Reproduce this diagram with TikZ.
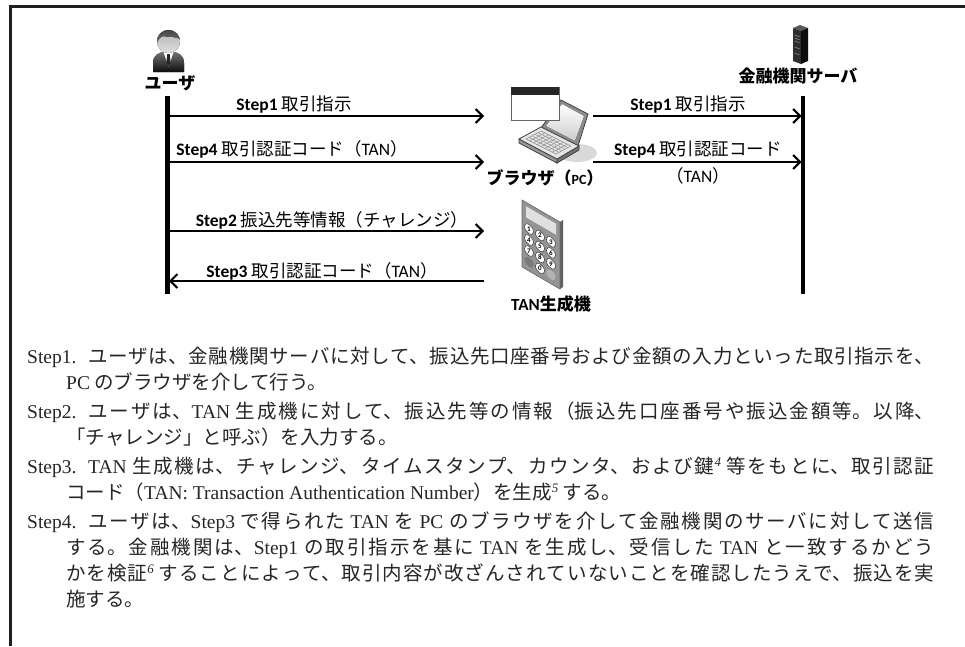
\documentclass[tikz,border=0pt]{standalone}
\usepackage{fontspec}
\setmainfont{Noto Sans CJK JP}
\newfontfamily\latin{Liberation Serif}
\newfontfamily\sans{Carlito}
\usetikzlibrary{arrows.meta,calc}

% numbered step heading with hanging indent for the notes
\newcommand\stepitem[1]{\par\hangindent=39pt\hangafter=1\noindent\makebox[61pt][l]{\latin #1}}
\newcommand\fnmark[1]{\raisebox{7pt}{\latin\itshape\fontsize{13}{13}\selectfont #1}}
\newcommand\lat[1]{{\latin #1}}

\begin{document}
\begin{tikzpicture}[x=1pt,y=-1pt,
  lifeline/.style={line width=4.5pt, black},
  msg/.style={line width=2pt, black, -{Straight Barb[length=7pt,width=14pt]}},
  lbl/.style={inner sep=0pt, font=\fontsize{17.5}{20}\selectfont},
  actor/.style={inner sep=0pt, font=\fontsize{17}{20}\selectfont\bfseries},
  key/.style={fill=white, draw=black!70, line width=0.6pt},
  digit/.style={inner sep=0pt, font=\sans\bfseries\fontsize{7}{7}\selectfont},
]
\fill[white] (0,0) rectangle (965,646);
\useasboundingbox (0,0) rectangle (965,646);

% frame
\draw[line width=3pt, black!88, line join=miter] (965,6) -- (10.5,6) -- (10.5,646);

% ---------- user icon ----------
\begin{scope}
  \fill[top color=black!55, bottom color=black!95] (153,72) -- (153,63) .. controls (153,55) and (159,52) .. (165,52) -- (172,52) .. controls (178,52) and (184,55) .. (184,63) -- (184,72) -- cycle;
  \fill[white] (163.5,52) -- (173.5,52) -- (168.5,67) -- cycle;
  \fill[black!85] (167.3,54) -- (169.7,54) -- (170.6,62) -- (168.5,67) -- (166.4,62) -- cycle;
  \fill[top color=black!30, bottom color=black!12] (168.5,41.5) circle[radius=11.5];
  \begin{scope}
    \clip (168.5,41.5) circle[radius=11.5];
    \fill[top color=black!75, bottom color=black!55] (155,28) -- (182,28) -- (182,41) .. controls (177,35) and (170,38) .. (163,36) .. controls (160,37) .. (156,44) -- cycle;
  \end{scope}
\end{scope}
\node[actor] (user) at (170,83) {ユーザ};

% ---------- server icon ----------
\fill[black!65] (793,28) -- (800,25) -- (808,28) -- (801,31) -- cycle;
\fill[black!82] (793,28) -- (801,31) -- (801,64) -- (793,61) -- cycle;
\fill[black!95] (801,31) -- (808,28) -- (808,61) -- (801,64) -- cycle;
\foreach \yy in {35,38,41,47,53} \draw[black!50, line width=0.7pt] (794.5,\yy) -- (799.5,\yy+1.8);
\node[actor] (server) at (798,76) {金融機関サーバ};

% ---------- laptop with browser window ----------
\fill[black!15] (577,153) ellipse[x radius=20, y radius=9];
\filldraw[fill=black!45, draw=black!75, line width=0.8pt] (541,128) -- (561,100) -- (588,114) -- (578,146) -- cycle;
\fill[top color=white, bottom color=black!20] (546,126) -- (562,104) -- (584,116) -- (575,141) -- cycle;
\filldraw[fill=black!40, draw=black!75, line width=0.8pt] (519,139) -- (557,159) -- (557,163) -- (519,143) -- cycle;
\filldraw[fill=black!55, draw=black!75, line width=0.8pt] (557,159) -- (579,146) -- (579,150) -- (557,163) -- cycle;
\filldraw[fill=black!10, draw=black!75, line width=0.8pt] (519,139) -- (541,127) -- (579,146) -- (557,159) -- cycle;
\coordinate (k1) at (526,139);
\coordinate (k2) at (541,131);
\coordinate (k3) at (571,146);
\coordinate (k4) at (556,154);
\foreach \t in {0,0.125,0.25,0.375,0.5,0.625,0.75,0.875,1}
  \draw[black!45, line width=0.5pt] ($(k1)!\t!(k4)$) -- ($(k2)!\t!(k3)$);
\foreach \t in {0,0.2,0.4,0.6,0.8,1}
  \draw[black!45, line width=0.5pt] ($(k1)!\t!(k2)$) -- ($(k4)!\t!(k3)$);
\filldraw[fill=white, draw=black!60, line width=1pt] (511,87) rectangle (559,120);
\fill[black!85] (511,87) rectangle (559,95);
\node[actor] (browser) at (545,178) {ブラウザ（{\sans\fontsize{14}{14}\selectfont PC}）};

% ---------- TAN generator ----------
\fill[black!62] (560,222) -- (563,220) -- (563,287) -- (560,289) -- cycle;
\begin{scope}[shift={(522,200)}, yslant=-0.58]
  \filldraw[fill=black!42, draw=black!60, line width=0.6pt] (0,0) rectangle (38,67);
  \fill[black!12] (4,4) rectangle (34,15);
  \foreach \r/\c/\d in {0/0/1,0/1/2,0/2/3,1/0/4,1/1/5,1/2/6,2/0/7,2/1/8,2/2/9,3/1/0} {
    \draw[key] ({7+11*\c},{25+11*\r}) circle[radius=4.6];
    \node[digit] (k\d) at ({7+11*\c},{25+11*\r}) {\d};
  }
  \fill[black!52] (7,58) circle[radius=4.6];
  \fill[black!30] (29,58) circle[radius=4.6];
\end{scope}
\node[actor] (tan) at (551,304) {{\sans TAN}生成機};

% ---------- lifelines ----------
\coordinate (uTop) at (167.5,96);
\coordinate (uBot) at (167.5,294);
\coordinate (sTop) at (803,96);
\coordinate (sBot) at (803,294);
\draw[lifeline] (uTop) -- (uBot);
\draw[lifeline] (sTop) -- (sBot);

% ---------- messages ----------
\coordinate (u1) at (169,116);  \coordinate (b1) at (484,116);
\coordinate (u4) at (169,162);  \coordinate (b4) at (484,162);
\coordinate (u2) at (169,231);  \coordinate (t2) at (484,231);
\coordinate (u3) at (169,281);  \coordinate (t3) at (484,281);
\coordinate (p1) at (593,116);  \coordinate (s1) at (801.5,116);
\coordinate (p4) at (593,162);  \coordinate (s4) at (801.5,162);

\draw[msg] (u1) -- (b1);
\draw[msg] (u4) -- (b4);
\draw[msg] (u2) -- (t2);
\draw[msg] (t3) -- (u3);
\draw[msg] (p1) -- (s1);
\draw[msg] (p4) -- (s4);

\node[lbl] (m1) at (294,105) {{\sans\bfseries Step1} 取引指示};
\node[lbl] (m4) at (292,149) {{\sans\bfseries Step4} 取引認証コード（{\sans TAN}）};
\node[lbl] (m2) at (332,220) {{\sans\bfseries Step2} 振込先等情報（チャレンジ）};
\node[lbl] (m3) at (322,271) {{\sans\bfseries Step3} 取引認証コード（{\sans TAN}）};
\node[lbl] (n1) at (688,105) {{\sans\bfseries Step1} 取引指示};
\node[lbl, align=center, font=\fontsize{17.5}{27}\selectfont] (n4) at (698,162.5) {{\sans\bfseries Step4} 取引認証コード\\（{\sans TAN}）};

% ---------- notes ----------
\node[anchor=base west, inner sep=0pt, text width=907pt, align=justify, text=black!85,
      font=\fontsize{19.5}{26}\selectfont] (notes) at (27,334) {%
\XeTeXlinebreaklocale "ja"\XeTeXlinebreakskip=0pt plus 3pt\relax
\parskip=3pt\lineskiplimit=-20pt\relax
\stepitem{Step1.}ユーザは、金融機関サーバに対して、振込先口座番号および金額の入力といった取引指示を、\linebreak
\lat{PC} のブラウザを介して行う。%
\stepitem{Step2.}ユーザは、\lat{TAN} 生成機に対して、振込先等の情報（振込先口座番号や振込金額等。以降、\linebreak
「チャレンジ」と呼ぶ）を入力する。%
\stepitem{Step3.}\lat{TAN} 生成機は、チャレンジ、タイムスタンプ、カウンタ、および鍵\fnmark{4} 等をもとに、取引認証\linebreak
コード（\lat{TAN: Transaction Authentication Number}）を生成\fnmark{5} する。%
\stepitem{Step4.}ユーザは、\lat{Step3} で得られた \lat{TAN} を \lat{PC} のブラウザを介して金融機関のサーバに対して送信\linebreak
する。金融機関は、\lat{Step1} の取引指示を基に \lat{TAN} を生成し、受信した \lat{TAN} と一致するかどう\linebreak
かを検証\fnmark{6} することによって、取引内容が改ざんされていないことを確認したうえで、振込を実\linebreak
施する。\par};
\end{tikzpicture}
\end{document}
